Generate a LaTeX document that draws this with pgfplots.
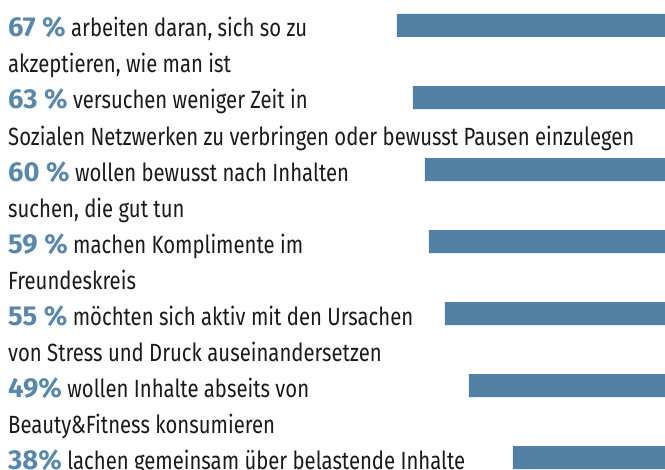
\documentclass[border=0pt]{standalone}
\usepackage{pgfplots}
\pgfplotsset{compat=1.18}
\usepackage{fontspec}
\setmainfont{Fira Sans}[FakeStretch=0.815]
\newfontfamily\pcfont{Fira Sans}
\definecolor{barblue}{HTML}{5381A3}
\definecolor{pctblue}{HTML}{5A88AB}
\definecolor{txt}{HTML}{1A1A1A}
\newcommand{\pc}[1]{{\pcfont\bfseries\fontsize{27.5}{36}\selectfont\color{pctblue}#1}}
\tikzset{lbl/.style={anchor=base west, inner sep=0pt, text=txt, font=\fontsize{25}{36}\selectfont}}
\begin{document}
\begin{tikzpicture}
\begin{axis}[
  scale only axis, width=665bp, height=470bp,
  x dir=reverse, xmin=0, xmax=166.25,
  y dir=reverse, ymin=-0.35417, ymax=6.17361,
  axis lines=none, ticks=none,
  xbar, bar width=0.31944, bar shift=0pt,
  clip=true,
]
\addplot[fill=barblue, draw=none] coordinates {(67,0) (63,1) (60,2) (59,3) (55,4) (49,5) (38,6)};
\node[lbl] at (axis cs:164.25,0.1597) {\pc{67 \%} arbeiten daran, sich so zu};
\node[lbl] at (axis cs:164.25,0.6597) {akzeptieren, wie man ist};
\node[lbl] at (axis cs:164.25,1.1597) {\pc{63 \%} versuchen weniger Zeit in};
\node[lbl] at (axis cs:164.25,1.6597) {Sozialen Netzwerken zu verbringen oder bewusst Pausen einzulegen};
\node[lbl] at (axis cs:164.25,2.1597) {\pc{60 \%} wollen bewusst nach Inhalten};
\node[lbl] at (axis cs:164.25,2.6597) {suchen, die gut tun};
\node[lbl] at (axis cs:164.25,3.1597) {\pc{59 \%} machen Komplimente im};
\node[lbl] at (axis cs:164.25,3.6597) {Freundeskreis};
\node[lbl] at (axis cs:164.25,4.1597) {\pc{55 \%} möchten sich aktiv mit den Ursachen};
\node[lbl] at (axis cs:164.25,4.6597) {von Stress und Druck auseinandersetzen};
\node[lbl] at (axis cs:164.25,5.1597) {\pc{49\%} wollen Inhalte abseits von};
\node[lbl] at (axis cs:164.25,5.6597) {Beauty\&Fitness konsumieren};
\node[lbl] at (axis cs:164.25,6.1597) {\pc{38\%} lachen gemeinsam über belastende Inhalte};
\end{axis}
\pgfresetboundingbox
\useasboundingbox (current axis.south west) rectangle (current axis.north east);
\end{tikzpicture}
\end{document}
